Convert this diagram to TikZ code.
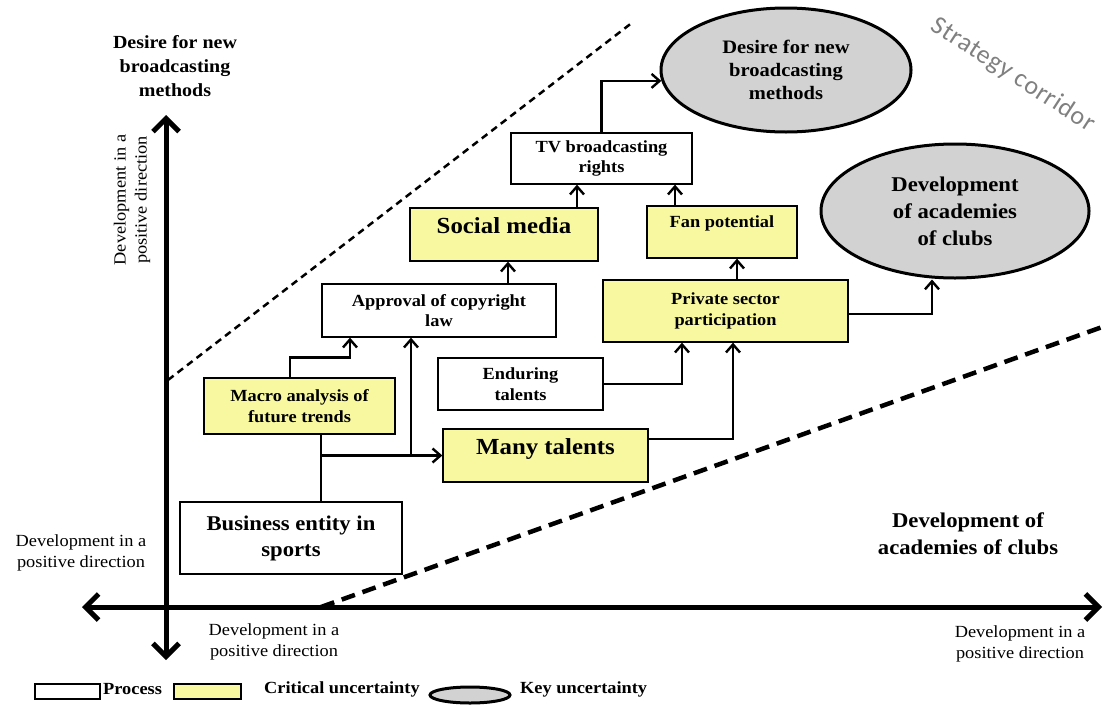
\documentclass[tikz,border=0pt]{standalone}
\usepackage{fontspec}
\setmainfont{Liberation Serif}[FakeStretch=1.08]
\newfontfamily\corrfont{Carlito}[LetterSpace=3]
\usetikzlibrary{arrows.meta,shapes.geometric,calc}
\definecolor{critY}{RGB}{248,248,160}
\definecolor{keyG}{RGB}{210,210,210}
\definecolor{corrG}{RGB}{128,128,128}
\tikzset{
  box/.style={draw, line width=1.3pt, inner sep=0pt, align=center,
              font=\bfseries\fontsize{17}{20.5}\selectfont},
  proc/.style={box, fill=white},
  crit/.style={box, fill=critY},
  keyu/.style={ellipse, draw, line width=3pt, fill=keyG, inner sep=0pt, align=center},
  conn/.style={line width=2.4pt, -{Straight Barb[length=8pt,width=14pt]}},
  plainline/.style={line width=2.4pt},
  axisline/.style={line width=5pt, {Straight Barb[length=13pt,width=26pt]}-{Straight Barb[length=13pt,width=26pt]}},
  lbl/.style={align=center, inner sep=0pt, font=\fontsize{17}{21}\selectfont},
  blbl/.style={align=center, inner sep=0pt},
  corridorA/.style={line width=2.5pt, dash pattern=on 7pt off 5pt},
  corridorB/.style={line width=4.5pt, dash pattern=on 14pt off 8pt},
}
\begin{document}
\begin{tikzpicture}[x=1pt,y=-1pt]
\useasboundingbox[fill=white] (0,0) rectangle (1105,704);

% axes
\coordinate (yT) at (166,115);
\coordinate (yB) at (166,660);
\coordinate (xL) at (82,607);
\coordinate (xR) at (1102,607);
\draw[axisline] (yB) -- (yT);
\draw[axisline] (xL) -- (xR);

% strategy corridor
\coordinate (cA1) at (168,380);
\coordinate (cA2) at (633,22);
\coordinate (cB1) at (321,607);
\coordinate (cB2) at (1105,326);
\draw[corridorA] (cA1) -- (cA2);
\draw[corridorB] (cB1) -- (cB2);
\node[rotate=-33, text=corrG, inner sep=0pt, font=\corrfont\fontsize{26}{30}\selectfont] (corr) at (1013,75) {Strategy corridor};

% axis labels
\node[blbl, font=\bfseries\fontsize{18.5}{24}\selectfont] (lblTop) at (175,66) {Desire for new\\broadcasting\\methods};
\node[lbl, rotate=90] (lblRot) at (132,200) {Development in a\\positive direction};
\node[lbl] (lblLeft) at (81,553) {Development in a\\positive direction};
\node[lbl] (lblBot) at (274,642) {Development in a\\positive direction};
\node[lbl] (lblBR) at (1020,644) {Development in a\\positive direction};
\node[blbl, font=\bfseries\fontsize{21}{27}\selectfont] (lblRight) at (968,534) {Development of\\academies of clubs};

% key uncertainties
\node[keyu, minimum width=250pt, minimum height=124pt, font=\bfseries\fontsize{19}{23}\selectfont] (e1) at (786,70) {Desire for new\\broadcasting\\methods};
\node[keyu, minimum width=268pt, minimum height=134pt, font=\bfseries\fontsize{21}{27}\selectfont] (e2) at (955,211) {Development\\of academies\\of clubs};

% boxes
\node[proc, minimum width=181pt, minimum height=51pt] (tv) at (601.5,158.5) {TV broadcasting\\rights};
\node[crit, minimum width=188pt, minimum height=53pt, font=\bfseries\fontsize{23}{27}\selectfont] (social) at (504,234.5) {Social media\\[-10pt]\mbox{}};
\node[crit, minimum width=150pt, minimum height=52pt] (fan) at (722,232) {Fan potential\\\mbox{}};
\node[proc, minimum width=234pt, minimum height=53pt] (appr) at (439,310.5) {Approval of copyright\\law};
\node[crit, minimum width=245pt, minimum height=62pt] (priv) at (725.5,311) {Private sector\\participation};
\node[proc, minimum width=165pt, minimum height=52pt] (endu) at (520.5,384) {Enduring\\talents};
\node[crit, minimum width=191pt, minimum height=56pt] (macro) at (299.5,406) {Macro analysis of\\future trends};
\node[crit, minimum width=205pt, minimum height=53pt, font=\bfseries\fontsize{23}{27}\selectfont] (many) at (545.5,455.5) {Many talents\\[-10pt]\mbox{}};
\node[proc, minimum width=222pt, minimum height=72pt, font=\bfseries\fontsize{21}{26}\selectfont] (bus) at (291,538) {Business entity in\\sports};

% connectors
\draw[conn] (tv.north) |- (e1.185);
\draw[conn] ([xshift=73pt]social.north) -- ([xshift=73pt]social.north |- tv.south);
\draw[conn] ([xshift=-47pt]fan.north) -- ([xshift=-47pt]fan.north |- tv.south);
\draw[conn] ([xshift=69pt]appr.north) -- ([xshift=69pt]appr.north |- social.south);
\draw[conn] ([xshift=11.5pt]priv.north) -- ([xshift=11.5pt]priv.north |- fan.south);
\draw[conn] ([yshift=-3pt]priv.east) -| ([xshift=-23pt]e2.south);
\draw[conn] ([xshift=-9.5pt]macro.north) -- ++(0,-20) -| ([xshift=-89pt]appr.south);
\coordinate (j1) at ([xshift=30pt]bus.north |- many.west);
\draw[plainline] ([xshift=30pt]bus.north) -- ([xshift=30pt]bus.north |- macro.south);
\draw[conn] (j1) -- (many.west);
\draw[conn] ([xshift=-28pt]appr.south |- many.west) -- ([xshift=-28pt]appr.south);
\draw[conn] (endu.east) -| ([xshift=-43.5pt]priv.south);
\draw[conn] ([yshift=16.5pt]many.east) -| ([xshift=7.5pt]priv.south);

% legend
\node[draw, line width=1.3pt, fill=white, minimum width=65pt, minimum height=15pt, inner sep=0pt] (lgP) at (67.5,691.5) {};
\node[anchor=west, inner sep=0pt, font=\bfseries\fontsize{17}{20}\selectfont] (lgPt) at (103,689) {Process};
\node[draw, line width=1.3pt, fill=critY, minimum width=67pt, minimum height=15pt, inner sep=0pt] (lgC) at (207.5,691.5) {};
\node[anchor=west, inner sep=0pt, font=\bfseries\fontsize{17}{20}\selectfont] (lgCt) at (264,689) {Critical uncertainty};
\node[ellipse, draw, line width=3pt, fill=keyG, minimum width=80pt, minimum height=16pt, inner sep=0pt] (lgK) at (470,695) {};
\node[anchor=west, inner sep=0pt, font=\bfseries\fontsize{17}{20}\selectfont] (lgKt) at (520,689) {Key uncertainty};
\end{tikzpicture}
\end{document}
